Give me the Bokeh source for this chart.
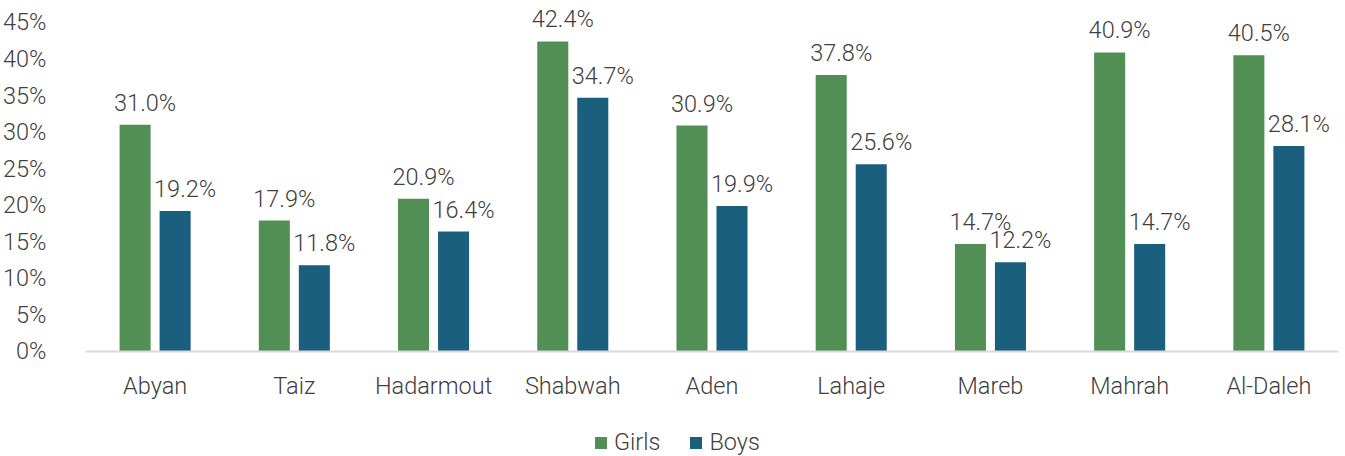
from bokeh.plotting import figure
from bokeh.models import ColumnDataSource, FactorRange, Range1d, FixedTicker, PrintfTickFormatter, Legend, LegendItem
from bokeh.transform import dodge
from bokeh.core.properties import value
from bokeh.embed import file_html
from bokeh.resources import INLINE

categories = ["Abyan", "Taiz", "Hadarmout", "Shabwah", "Aden", "Lahaje", "Mareb", "Mahrah", "Al-Daleh"]
girls = [31.0, 17.9, 20.9, 42.4, 30.9, 37.8, 14.7, 40.9, 40.5]
boys = [19.2, 11.8, 16.4, 34.7, 19.9, 25.6, 12.2, 14.7, 28.1]
y_ticks = [0, 5, 10, 15, 20, 25, 30, 35, 40, 45]

FONT = "Roboto Light"
FS = "23.5px"
TXT = "#404040"
GREEN = "#528F55"
BLUE = "#1B5F7F"

src = ColumnDataSource(dict(
    cat=categories,
    girls=girls,
    boys=boys,
    girls_lbl=[f"{v:.1f}%" for v in girls],
    boys_lbl=[f"{v:.1f}%" for v in boys],
))

# frame spans the full height; the value axis runs 0..45 with extra room above and below
p = figure(x_range=FactorRange(*categories, range_padding=0), y_range=Range1d(-14.36, 48.0),
           width=1345, height=456, output_backend="svg", toolbar_location=None,
           min_border_top=0, min_border_left=85, min_border_right=7, min_border_bottom=0)
p.outline_line_color = None
p.xgrid.grid_line_color = None
p.ygrid.grid_line_color = None

off = 0.1437
bw = 0.223
g = p.vbar(x=dodge("cat", -off, range=p.x_range), top="girls", width=bw, source=src,
           fill_color=GREEN, line_color=None)
b = p.vbar(x=dodge("cat", off, range=p.x_range), top="boys", width=bw, source=src,
           fill_color=BLUE, line_color=None)

for col, lbl, o in (("girls", "girls_lbl", -off), ("boys", "boys_lbl", off)):
    p.text(x=dodge("cat", o, range=p.x_range), y=col, text=lbl, source=src,
           text_font=value(FONT), text_font_size=FS, text_color=TXT,
           text_align="center", text_baseline="alphabetic", x_offset=10, y_offset=-22)

p.yaxis.ticker = FixedTicker(ticks=y_ticks)
p.yaxis.formatter = PrintfTickFormatter(format="%d%%")
p.yaxis.axis_line_color = None
p.yaxis.major_tick_line_color = None
p.yaxis.minor_tick_line_color = None
p.yaxis.major_label_standoff = 33
p.yaxis.major_label_text_font = FONT
p.yaxis.major_label_text_font_size = FS
p.yaxis.major_label_text_color = TXT

p.xaxis.fixed_location = 0
p.xaxis.axis_line_color = "#D9D9D9"
p.xaxis.axis_line_width = 2
p.xaxis.major_tick_line_color = None
p.xaxis.minor_tick_line_color = None
p.xaxis.major_label_standoff = 15
p.xaxis.major_label_text_font = FONT
p.xaxis.major_label_text_font_size = FS
p.xaxis.major_label_text_color = TXT

legend = Legend(items=[LegendItem(label="Girls", renderers=[g]), LegendItem(label="Boys", renderers=[b])],
                orientation="horizontal", location=(508, 0),
                label_text_font=FONT, label_text_font_size=FS, label_text_color=TXT,
                glyph_width=15, glyph_height=15, label_standoff=6, spacing=28,
                padding=0, margin=0, border_line_color=None, background_fill_alpha=0)
p.add_layout(legend, "center")

open("out.html", "w").write(file_html(p, INLINE))
